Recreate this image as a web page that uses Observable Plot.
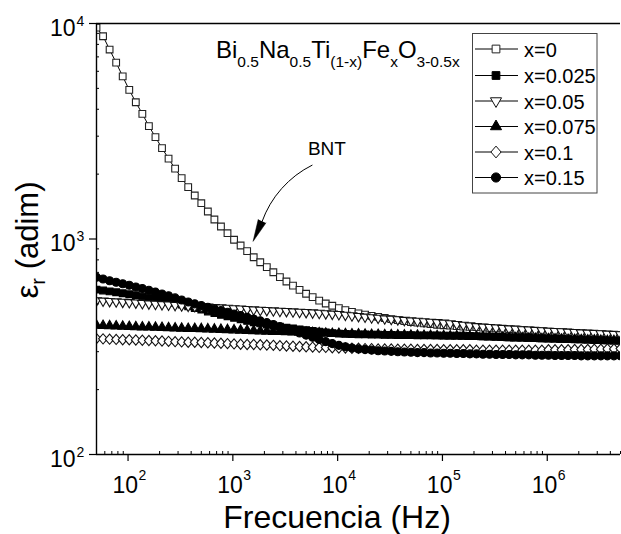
<!DOCTYPE html>
<html><head><meta charset="utf-8">
<script src="https://cdn.jsdelivr.net/npm/d3@7"></script>
<script src="https://cdn.jsdelivr.net/npm/@observablehq/plot@0.6"></script>
<style>body{margin:0;background:#fff} svg{display:block}</style>
</head><body><div id="chart"></div>
<script>
// Frequencies (Hz), log-spaced sweep 50 Hz – 5 MHz
const freq = [50,57.74,66.68,77.00,88.91,102.7,118.6,136.9,158.1,182.6,210.9,243.5,281.2,324.7,374.9,433.0,
 500,577.4,666.8,770.0,889.1,1027,1186,1369,1581,1826,2109,2435,2812,3247,3749,4330,
 5000,5774,6668,7700,8891,10270,11860,13690,15810,18260,21090,24350,28120,32470,37490,43300,
 50000,57740,66680,77000,88910,102700,118600,136900,158100,182600,210900,243500,281200,324700,374900,433000,
 500000,577400,666800,770000,889100,1027000,1186000,1369000,1581000,1826000,2109000,2435000,2812000,3247000,3749000,4330000,
 5000000];

const eps_x0 = [9570,8730,7570,6580,5680,4920,4310,3810,3340,2970,2640,2360,2120,1915,1740,1592,
 1466,1342,1232,1143,1064,992,933,878,823,780,740,701,665,635,608,581,
 557,537,518,502,490,478,468,459,452,446,440,435,430,425,420,416,
 412,409,406,403,400,398,396,394,392,391,390,388,387,385,384,382,
 381,379,377,376,374,372,371,370,369,367,366,365,364,362,361,360,358];
const eps_x0025 = [582,577,571,566,560,554,548,541,535,527,520,512,505,496,487,478,
 470,461,453,445,438,431,424,417,411,406,401,396,392,388,385,381,
 378,375,372,369,366,364,363,362,361,361,360,360,359,359,358,358,
 358,357,357,357,357,356,356,356,356,355,354,353,353,352,351,350,
 350,349,348,347,346,345,345,344,343,342,342,341,340,340,339,338,338];
const eps_x005 = [518,516,514,512,510,508,506,503,501,499,497,495,493,491,489,487,
 486,484,482,480,478,476,474,472,470,468,467,465,463,462,460,458,
 457,455,453,451,449,447,444,441,438,435,432,430,427,425,423,420,
 418,416,414,412,410,408,405,402,399,396,393,391,389,387,385,383,
 382,380,379,377,376,374,373,372,370,369,367,366,365,364,362,361,360];
const eps_x0075 = [397,396,395,394,393,392,391,390,390,389,388,387,386,385,384,384,
 383,382,381,380,379,378,377,376,375,374,373,372,372,371,370,369,
 368,367,366,365,364,364,363,362,362,361,360,360,359,359,358,358,
 357,357,356,356,355,355,354,354,353,352,352,351,350,350,349,348,
 347,347,346,345,344,344,343,342,341,341,340,339,339,338,337,337,336];
const eps_x01 = [345,344,343,342,341,341,340,339,338,337,336,335,334,333,332,332,
 331,330,329,328,327,326,325,324,324,323,322,321,320,319,318,317,
 316,315,314,314,313,312,312,311,311,310,310,309,309,309,308,308,
 308,307,307,307,307,306,306,306,306,306,305,305,305,305,305,305,
 305,305,305,305,305,306,306,306,306,307,307,307,308,308,309,309,310];
const eps_x015 = [665,652,640,630,620,610,599,589,578,567,556,545,533,521,510,500,
 491,482,473,465,457,449,441,433,425,417,409,401,392,384,375,366,
 358,350,342,334,327,321,316,312,309,307,305,303,302,301,300,299,
 298,297,297,296,296,295,295,294,294,293,293,292,292,291,291,291,
 290,290,290,289,289,289,288,288,288,288,287,287,287,287,287,287,287];

const seriesNames = ["x=0","x=0.025","x=0.05","x=0.075","x=0.1","x=0.15"];
const seriesValues = [eps_x0, eps_x0025, eps_x005, eps_x0075, eps_x01, eps_x015];

const xTicks = [1e2,1e3,1e4,1e5,1e6];
const xExp = ["2","3","4","5","6"];
const yTicks = [1e2,1e3,1e4];
const yExp = ["2","3","4"];

// annotation "BNT" with curved arrow (data coordinates)
const annotation = [{label:"BNT", f:7900, e:2630, f1:5700, e1:2200, f2:1900, e2:1205, tipF:1560, tipE:975}];

// --- symbols ---
const SQ3 = Math.sqrt(3);
const triDown = {draw(ctx, size){ const y = -Math.sqrt(size/(SQ3*3)); ctx.moveTo(0,-2*y); ctx.lineTo(-SQ3*y, y); ctx.lineTo(SQ3*y, y); ctx.closePath(); }};
const triUp = {draw(ctx, size){ const y = -Math.sqrt(size/(SQ3*3)); ctx.moveTo(0,2*y); ctx.lineTo(-SQ3*y, -y); ctx.lineTo(SQ3*y, -y); ctx.closePath(); }};
const diamond = {draw(ctx, size){ const s = Math.sqrt(size); const h = s*0.74, w = s*0.64; ctx.moveTo(0,-h); ctx.lineTo(w,0); ctx.lineTo(0,h); ctx.lineTo(-w,0); ctx.closePath(); }};
const styles = [
  {symbol: d3.symbolSquare, fill:"white", stroke:"#222", r:3.8},
  {symbol: d3.symbolSquare, fill:"black", stroke:"black", r:3.8},
  {symbol: triDown, fill:"white", stroke:"#111", r:3.6},
  {symbol: triUp, fill:"black", stroke:"black", r:3.6},
  {symbol: diamond, fill:"white", stroke:"#111", r:3.9},
  {symbol: d3.symbolCircle, fill:"black", stroke:"black", r:4.0}
];

const rows = seriesValues.map((vals, s) => vals.map((v, i) => ({f: freq[i], e: v, s: seriesNames[s]})));

const xMinor = [], yMinor = [];
for (let k = 1; k <= 6; k++) for (let m = 2; m <= 9; m++) { const v = m*10**k; if (v >= 50 && v <= 5e6) xMinor.push(v); }
for (let k = 2; k <= 3; k++) for (let m = 2; m <= 9; m++) yMinor.push(m*10**k);

const FONT = "Liberation Sans, Arial, Helvetica, sans-serif";
const marks = [];
seriesValues.forEach((_, s) => {
  marks.push(Plot.line(rows[s], {x:"f", y:"e", stroke:"black", strokeWidth:1, clip:true}));
  marks.push(Plot.dot(rows[s], {x:"f", y:"e", symbol: styles[s].symbol, r: styles[s].r, fill: styles[s].fill, stroke: styles[s].stroke, strokeWidth:1.1, clip:true}));
});

const chart = Plot.plot({
  width: 621, height: 534,
  marginLeft: 96, marginRight: 1, marginTop: 23, marginBottom: 80,
  style: {fontFamily: FONT, background: "white", overflow: "visible"},
  x: {type: "log", domain: [50, 5e6]},
  y: {type: "log", domain: [100, 1e4]},
  marks: [
    ...marks,
    Plot.ruleY([100, 1e4], {stroke:"black", strokeWidth:1.4}),
    Plot.ruleX([50], {stroke:"black", strokeWidth:1.4}),
    Plot.axisX({ticks: xTicks, tickSize: 7, tickFormat: () => "", strokeWidth: 1.2}),
    Plot.axisX({ticks: xMinor, tickSize: 3, dy: -3, tickFormat: () => "", strokeWidth: 1}),
    Plot.axisY({ticks: yTicks, tickSize: 7, tickFormat: () => "", strokeWidth: 1.2}),
    Plot.axisY({ticks: yMinor, tickSize: 3, dx: 3, tickFormat: () => "", strokeWidth: 1}),
    Plot.text(xTicks, {x: d => d, frameAnchor: "bottom", text: () => "10", textAnchor: "end", lineAnchor: "bottom", dx: 10, dy: 38, fontSize: 23, fill: "black"}),
    Plot.text(xTicks, {x: d => d, frameAnchor: "bottom", text: (d, i) => xExp[i], textAnchor: "start", lineAnchor: "bottom", dx: 10.5, dy: 25, fontSize: 14, fill: "black"}),
    Plot.text(yTicks, {y: d => d, frameAnchor: "left", text: () => "10", textAnchor: "end", lineAnchor: "bottom", dx: -21, dy: 12, fontSize: 23, fill: "black"}),
    Plot.text(yTicks, {y: d => d, frameAnchor: "left", text: (d, i) => yExp[i], textAnchor: "start", lineAnchor: "bottom", dx: -20, dy: 2, fontSize: 14, fill: "black"}),
    Plot.text(annotation, {x: "f", y: "e", text: "label", fontSize: 19, fill: "black"}),
    Plot.arrow(annotation, {x1: "f1", y1: "e1", x2: "f2", y2: "e2", bend: -22, headLength: 0, stroke: "black", strokeWidth: 1}),
    Plot.vector(annotation, {x: "tipF", y: "tipE", length: 22, rotate: 204, shape: "spike", anchor: "end", r: 4.2, fill: "black", stroke: "black", strokeWidth: 0.5})
  ]
});

const svg = d3.select(chart);
// chemical formula (relative dy shifts, start-anchored)
const ft = svg.append("text").attr("x", 216).attr("y", 58).attr("text-anchor", "start").attr("font-family", FONT).attr("font-size", 24).attr("fill", "black");
const parts = [["Bi",0],["0.5",1],["Na",0],["0.5",1],["Ti",0],["(1-x)",1],["Fe",0],["x",1],["O",0],["3-0.5x",1]];
let prevSub = 0;
parts.forEach(([t, sub]) => {
  const dy = (sub - prevSub) * 9;
  ft.append("tspan").attr("dy", dy).attr("font-size", sub ? 15.5 : 24).text(t);
  prevSub = sub;
});

// axis titles
svg.append("text").attr("x", 337).attr("y", 528).attr("text-anchor", "middle").attr("font-family", FONT).attr("font-size", 32).attr("fill", "black").text("Frecuencia (Hz)");
const yt = svg.append("text").attr("transform", "translate(38,240) rotate(-90)").attr("text-anchor", "middle").attr("font-family", FONT).attr("font-size", 31).attr("fill", "black");
yt.append("tspan").text("ε");
yt.append("tspan").attr("dy", 7).attr("font-size", 20).text("r");
yt.append("tspan").attr("dy", -7).text(" (adim)");

// legend
const lg = svg.append("g");
lg.append("rect").attr("x", 472.5).attr("y", 33.5).attr("width", 124.5).attr("height", 159.5).attr("fill", "white").attr("stroke", "#444").attr("stroke-width", 1);
const rowY = [49, 75.5, 101, 126.5, 152, 177.5];
seriesNames.forEach((name, s) => {
  const y = rowY[s];
  lg.append("line").attr("x1", 475).attr("x2", 518).attr("y1", y).attr("y2", y).attr("stroke", "black").attr("stroke-width", 1);
  lg.append("path").attr("transform", `translate(496,${y})`).attr("d", d3.symbol().type(styles[s].symbol).size(Math.PI * (styles[s].r * 1.15) ** 2)())
    .attr("fill", styles[s].fill).attr("stroke", styles[s].stroke).attr("stroke-width", 1);
  lg.append("text").attr("x", 524).attr("y", y + 7.5).attr("text-anchor", "start").attr("font-family", FONT).attr("font-size", 20).attr("fill", "black").text(name);
});

document.getElementById("chart").appendChild(chart);
</script>
</body></html>
